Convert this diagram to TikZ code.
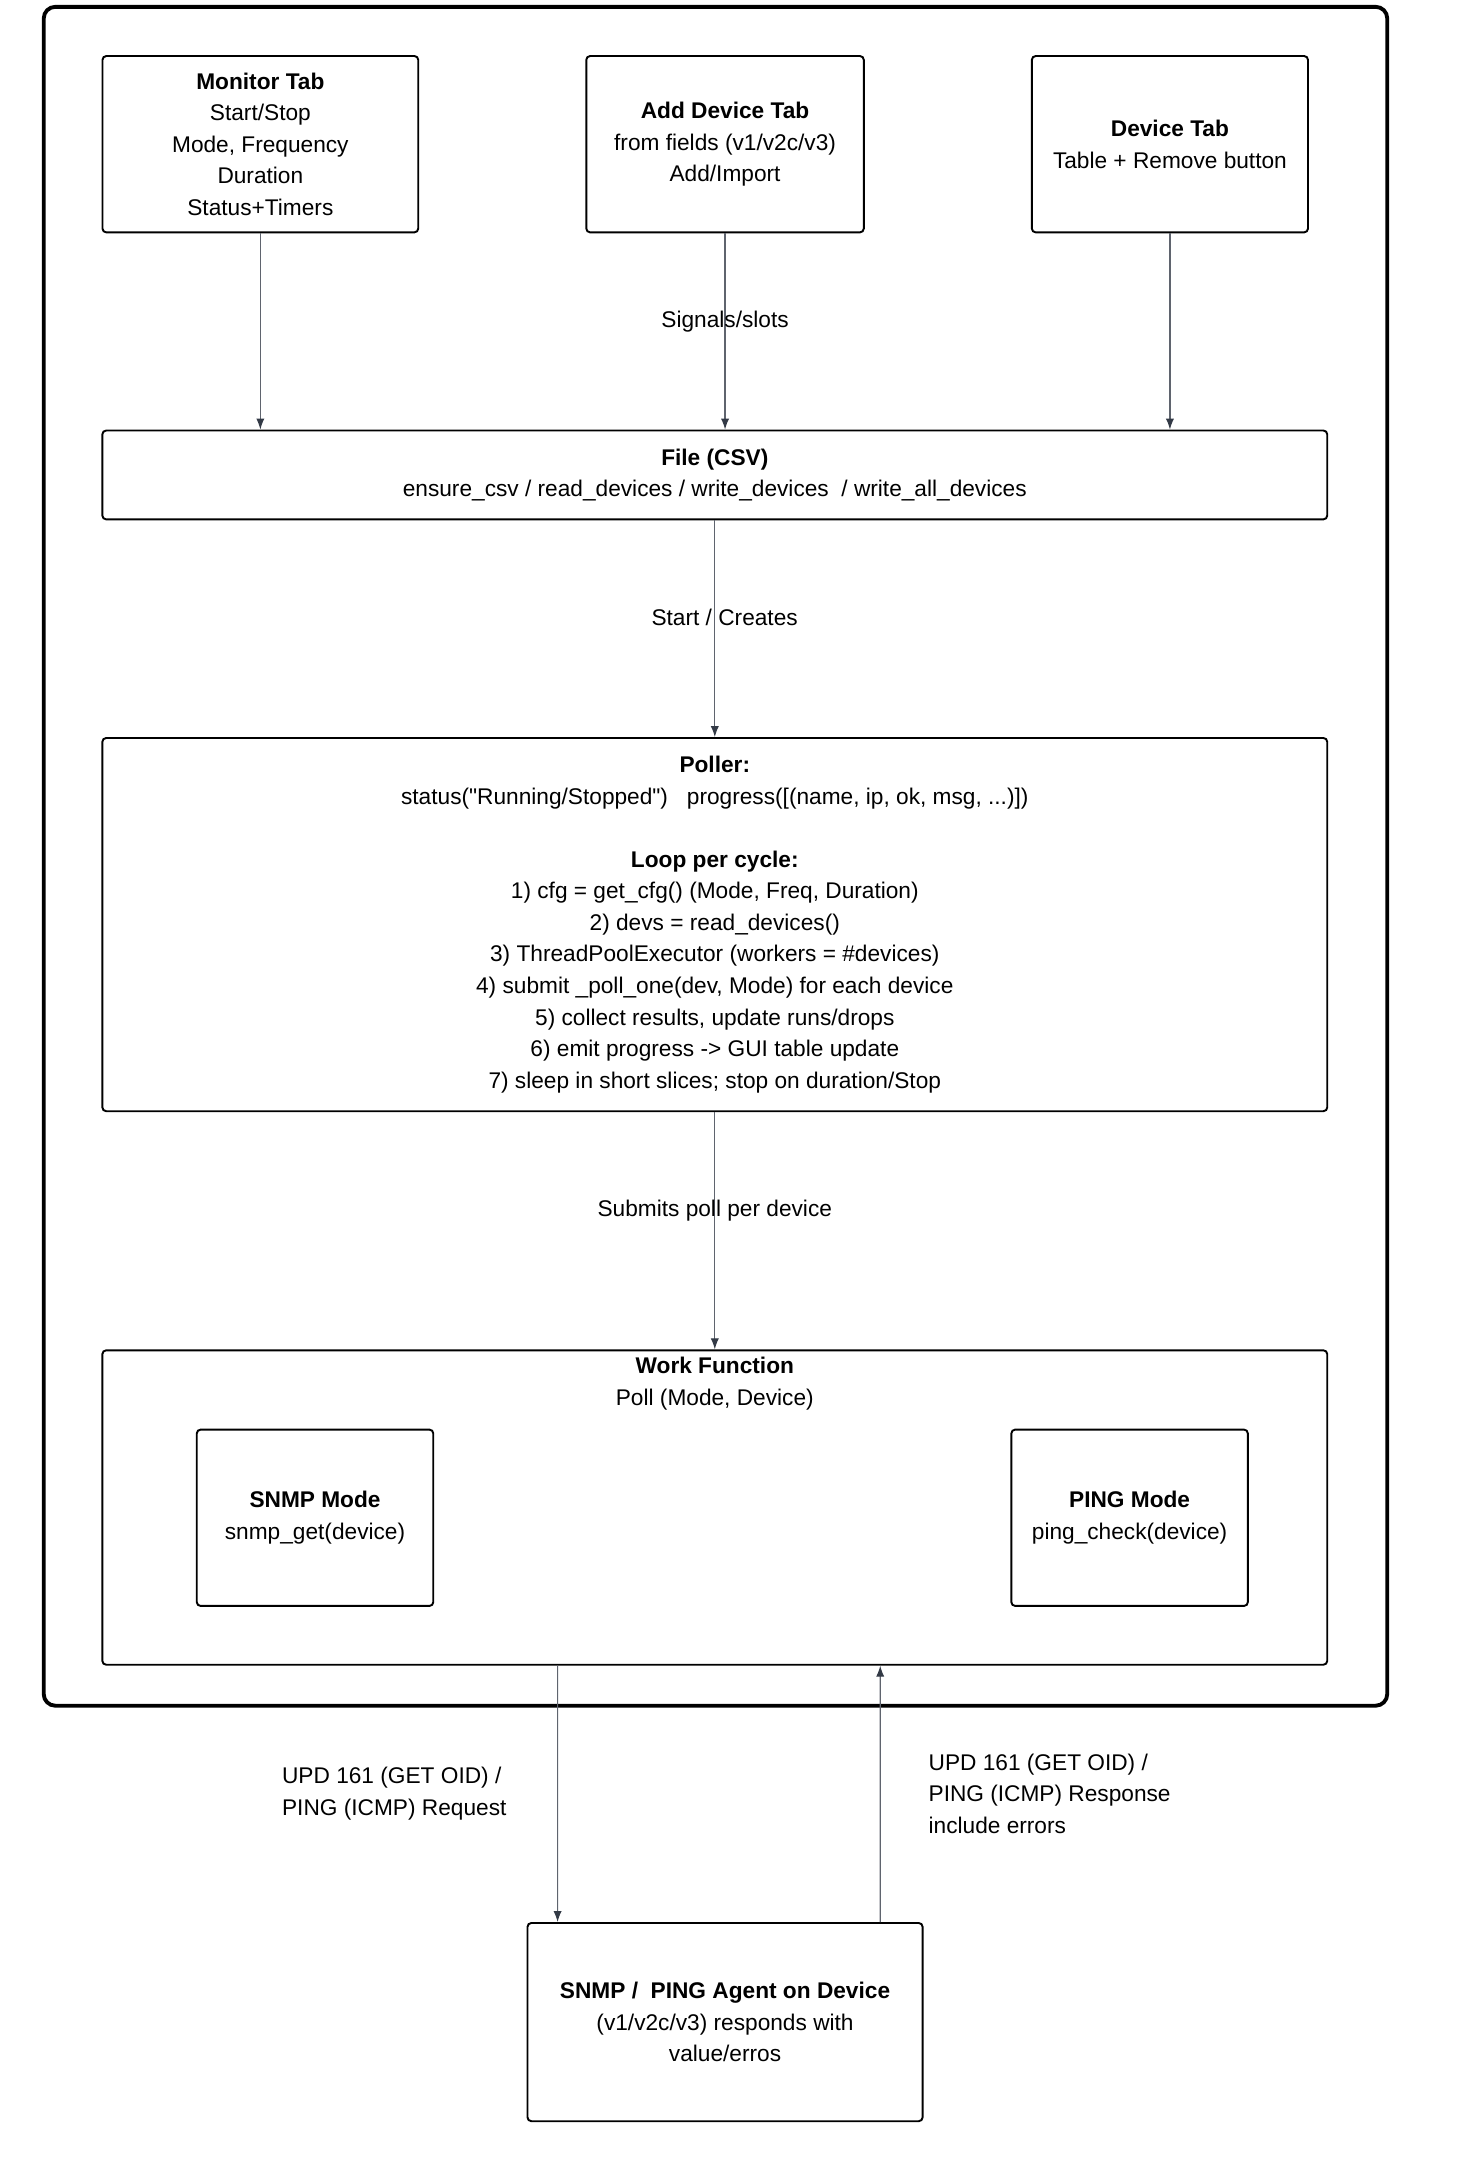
\documentclass[tikz,border=0pt]{standalone}
\usepackage{fontspec}
\setmainfont{Liberation Sans}
\newfontfamily\qfont{Liberation Sans}
\usetikzlibrary{arrows.meta, positioning}
\definecolor{edgegray}{RGB}{95,100,110}
\definecolor{tipgray}{RGB}{51,58,70}

\begin{document}
\begin{tikzpicture}[x=0.025cm, y=-0.025cm, >={Latex[length=0.2cm, width=0.15cm, color=tipgray]}, font=\fontsize{11.8}{16.4}\selectfont]
				\tikzstyle{box} = [draw=black, line width=1pt, rounded corners=2pt, align=center, inner sep=0pt]
				\tikzstyle{invis} = [draw=none, inner sep=0pt, align=left]
				\tikzstyle{flow} = [draw=edgegray, line width=0.6pt]
				
				\useasboundingbox (0, 0) rectangle (1080, 1587);
				\draw[line width=2pt, rounded corners=6pt] (32, 5) rectangle (1015, 1248);
				
				% tabs
				\node[box, minimum width=5.775cm, minimum height=3.225cm] at (190.5, 105.5) (mon) {\textbf{Monitor Tab}\\Start/Stop\\Mode, Frequency\\Duration\\Status+Timers};
				\node[box, minimum width=5.075cm, minimum height=3.225cm] at (530.5, 105.5) (add) {\textbf{Add Device Tab}\\from fields (v1/v2c/v3)\\Add/Import};
				\node[box, minimum width=5.05cm, minimum height=3.225cm] at (856, 105.5) (dev) {\textbf{Device Tab}\\Table + Remove button};
				
				% file, poller, work function
				\node[box, minimum width=22.4cm, minimum height=1.625cm] at (523, 347.5) (file) {\textbf{File (CSV)}\\ensure\_csv / read\_devices / write\_devices\ \ / write\_all\_devices};
				\node[box, minimum width=22.4cm, minimum height=6.825cm] at (523, 676.5) (poll) {\textbf{Poller:}\\status({\qfont"}Running/Stopped{\qfont"})\ \ \ progress([(name, ip, ok, msg, ...)])\\[16.4pt]
					\textbf{Loop per cycle:}\\1) cfg = get\_cfg() (Mode, Freq, Duration)\\2) devs = read\_devices()\\3) ThreadPoolExecutor (workers = \#devices)\\4) submit \_poll\_one(dev, Mode) for each device\\5) collect results, update runs/drops\\6) emit progress -> GUI table update\\7) sleep in short slices; stop on duration/Stop};
				\node[box, minimum width=22.4cm, minimum height=5.75cm] at (523, 1103) (wf) {};
				\node[invis, align=center] at (523, 1012.5) (wft) {\textbf{Work Function}\\Poll (Mode, Device)};
				\node[box, minimum width=4.325cm, minimum height=3.225cm] at (230.5, 1110.5) (snmp) {\textbf{SNMP Mode}\\snmp\_get(device)};
				\node[box, minimum width=4.325cm, minimum height=3.225cm] at (826.5, 1110.5) (ping) {\textbf{PING Mode}\\ping\_check(device)};
				
				% device side
				\node[box, minimum width=7.225cm, minimum height=3.625cm] at (530.5, 1479.5) (agent) {\textbf{SNMP /\ \ PING Agent on Device}\\(v1/v2c/v3) responds with\\value/erros};
				
				\path[->, every edge/.append style={flow}]
				(mon.south)	edge	(mon.south |- file.north)
				(add.south)	edge	node[invis, pos=0.45] {Signals/slots}	(add.south |- file.north)
				(dev.south)	edge	(dev.south |- file.north)
				(file.south)	edge	node[invis, pos=0.45, xshift=0.18cm] {Start / Creates}	(poll.north)
				(poll.south)	edge	node[invis, pos=0.416] {Submits poll per device}	(wf.north)
				([xshift=-2.875cm]wf.south)	edge	node[invis, left=0.925cm] {UPD 161 (GET OID) /\\PING (ICMP) Request}	([xshift=-3.0625cm]agent.north)
				([xshift=2.8375cm]agent.north)	edge	node[invis, right=0.875cm] {UPD 161 (GET OID) /\\PING (ICMP) Response\\include errors}	([xshift=3.025cm]wf.south);
\end{tikzpicture}
\end{document}
